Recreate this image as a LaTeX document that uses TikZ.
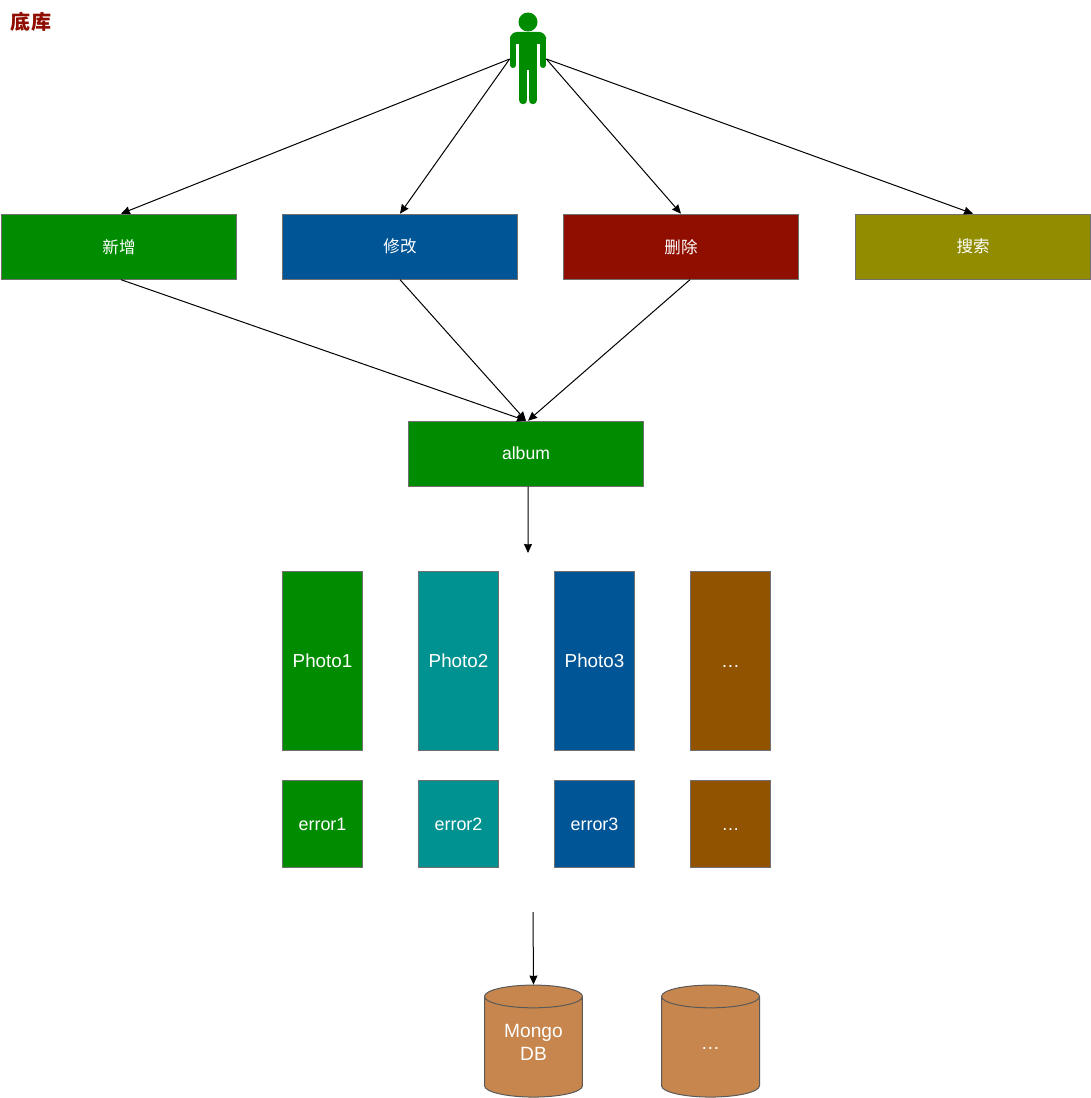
\documentclass[tikz,border=0pt]{standalone}
\usepackage{fontspec}
\setmainfont{Liberation Sans}
\newfontfamily\cjk{Noto Sans CJK SC}
\usetikzlibrary{arrows.meta,shapes.geometric}
\definecolor{cgreen}{HTML}{008C00}
\definecolor{cblue}{HTML}{005596}
\definecolor{cred}{HTML}{8F0E00}
\definecolor{colive}{HTML}{918C00}
\definecolor{cteal}{HTML}{009191}
\definecolor{cbrown}{HTML}{915300}
\definecolor{cdb}{HTML}{C7864D}
\definecolor{cedge}{HTML}{707070}
\tikzset{
  box/.style={draw=cedge, line width=0.02cm, text=white, inner sep=0pt, font=\fontsize{10pt}{12pt}\selectfont},
  action/.style={box, minimum width=4.7cm, minimum height=1.3cm, font=\cjk\fontsize{9.4pt}{12pt}\selectfont},
  photo/.style={box, minimum width=1.6cm, minimum height=3.58cm, font=\fontsize{10.7pt}{13pt}\selectfont},
  errbox/.style={box, minimum width=1.6cm, minimum height=1.74cm, font=\fontsize{10.2pt}{13pt}\selectfont},
  store/.style={draw=black!65, line width=0.02cm, fill=cdb, text=white, cylinder, shape border rotate=90, aspect=0.35,
    minimum width=1.96cm, minimum height=2.24cm, inner sep=0pt, text width=1.3cm, text height=0.36cm, text depth=0.74cm,
    align=center, font=\fontsize{10.9pt}{13pt}\selectfont},
  arrow/.style={-{Stealth[length=0.18cm,width=0.16cm,inset=0.01cm]}, line width=0.02cm}
}
\begin{document}
\begin{tikzpicture}[x=0.02cm, y=-0.02cm]
    \useasboundingbox (0,0) rectangle (1091,1098);

    % titre
    \node[text=cred, inner sep=0pt, font=\cjk\bfseries\fontsize{11.4pt}{13pt}\selectfont] (title) at (31,22) {底库};

    % personnage
    \node[minimum width=0.72cm, minimum height=1.84cm, inner sep=0pt] (person) at (528,59) {};
    \fill[cgreen] (528,22) circle (0.19cm);
    \fill[cgreen, rounded corners=0.14cm] (510,44) -- (510,32) -- (546,32) -- (546,44) -- cycle;
    \fill[cgreen] (519,40) rectangle (537,70);
    \draw[cgreen, line width=0.12cm, line cap=round] (513,40) -- (513,65);
    \draw[cgreen, line width=0.12cm, line cap=round] (543,40) -- (543,65);
    \draw[cgreen, line width=0.17cm, line cap=round] (523.2,60) -- (523.2,100);
    \draw[cgreen, line width=0.17cm, line cap=round] (532.8,60) -- (532.8,100);

    % actions
    \node[action, fill=cgreen] (add) at (119,246.7) {新增};
    \node[action, fill=cblue] (edit) at (400,246.7) {修改};
    \node[action, fill=cred] (del) at (681,246.7) {删除};
    \node[action, fill=colive] (search) at (973,246.7) {搜索};

    \node[action, fill=cgreen, font=\fontsize{10pt}{12pt}\selectfont] (album) at (526,453.7) {album};
    \coordinate (albumend) at (528,553);

    % photos
    \node[photo, fill=cgreen] (photo1) at (322.5,661) {Photo1};
    \node[photo, fill=cteal] (photo2) at (458.5,661) {Photo2};
    \node[photo, fill=cblue] (photo3) at (594.5,661) {Photo3};
    \node[photo, fill=cbrown] (photo4) at (730.5,661) {\vphantom{P}…};

    \node[errbox, fill=cgreen] (error1) at (322.5,824) {error1};
    \node[errbox, fill=cteal] (error2) at (458.5,824) {error2};
    \node[errbox, fill=cblue] (error3) at (594.5,824) {error3};
    \node[errbox, fill=cbrown] (error4) at (730.5,824) {\vphantom{P}…};

    % bases
    \node[store] (mongo) at (533.5,1047) {Mongo\\DB};
    \node[store] (other) at (710.5,1047) {\\[-6pt]…};
    \coordinate (mongostart) at (533,912);

    % liens
    \draw[arrow] (person.west) -- ([xshift=0.04cm]add.north);
    \draw[arrow] (person.west) -- (edit.north);
    \draw[arrow] (person.east) -- (del.north);
    \draw[arrow] (person.east) -- (search.north);
    \draw[arrow] ([xshift=0.04cm]add.south) -- (album.north);
    \draw[arrow] (edit.south) -- (album.north);
    \draw[arrow] ([xshift=0.18cm]del.south) -- ([xshift=0.04cm]album.north);
    \draw[arrow] ([xshift=0.04cm]album.south) -- (albumend);
    \draw[arrow] (mongostart) -- (mongo.north);
\end{tikzpicture}
\end{document}
